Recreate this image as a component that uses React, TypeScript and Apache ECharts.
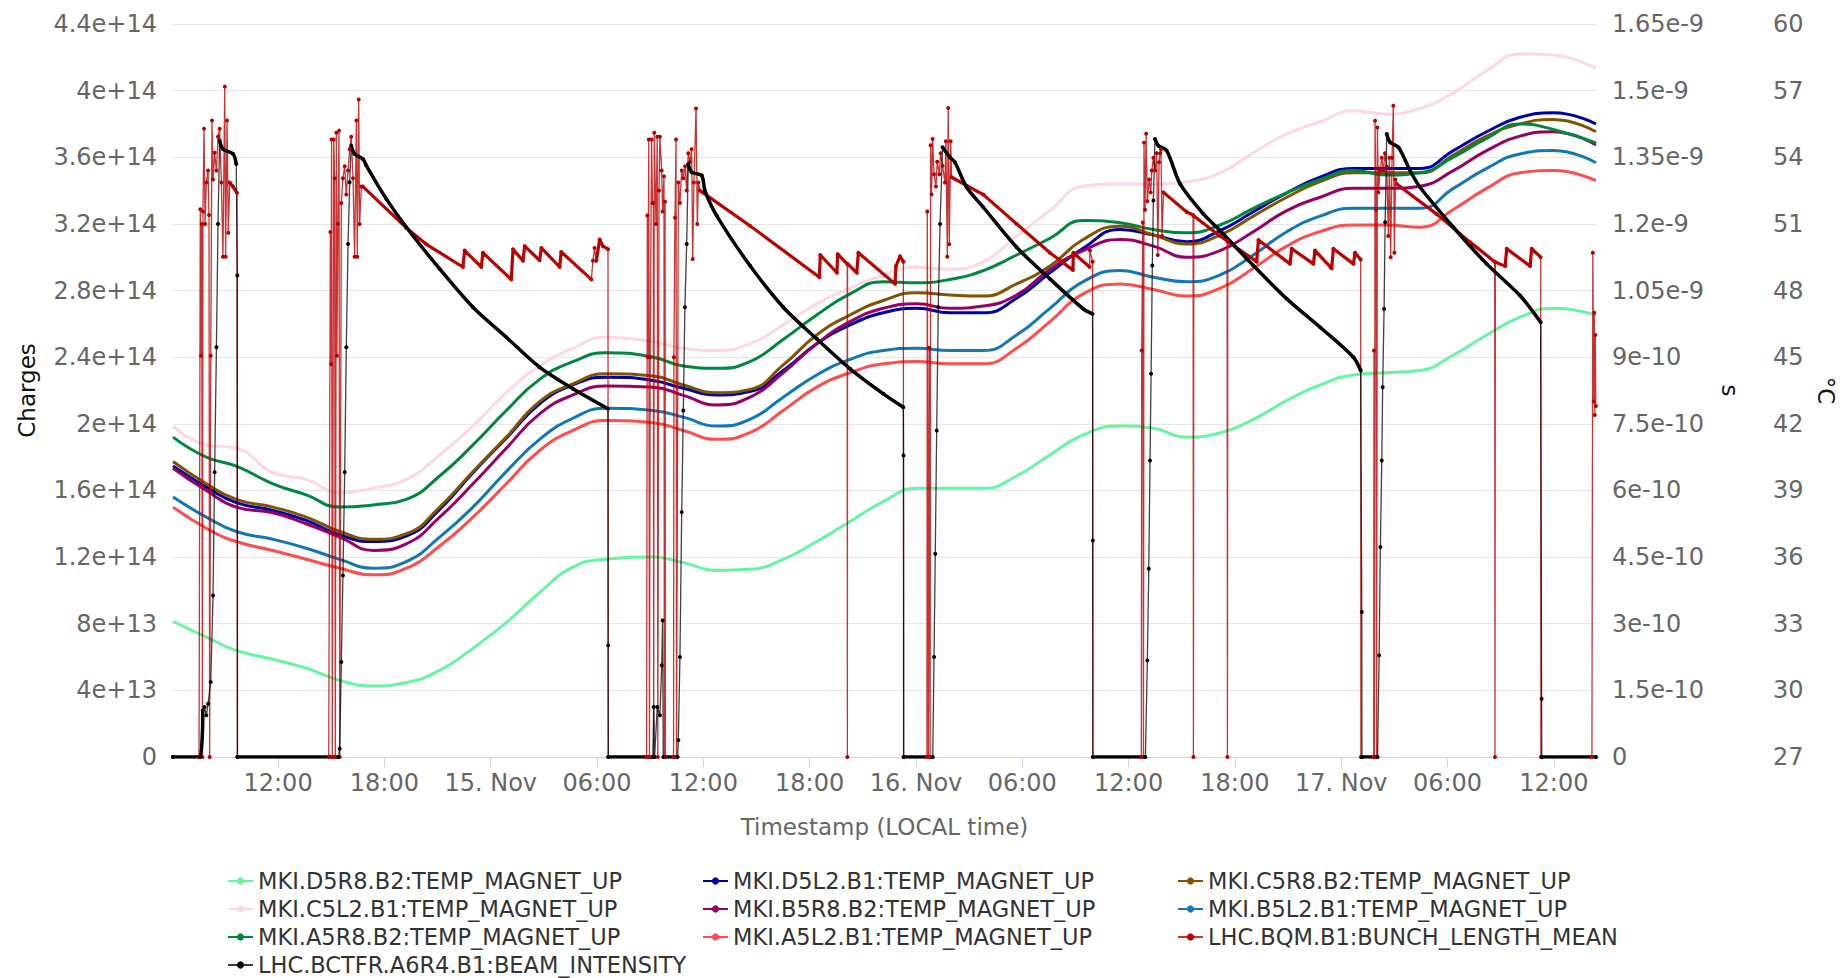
import React, { useEffect, useRef } from "react";
import * as echarts from "echarts";

const FONT = "DejaVu Sans";

// x axis: hours since 14 Nov 00:00 (local time)
const X_MIN = 6.07;
const X_MAX = 86.38;
const X_TICKS = [12, 18, 24, 30, 36, 42, 48, 54, 60, 66, 72, 78, 84];

// temperature sample times (hours)
const TEMP_HOURS = [6.07, 7.95, 9.64, 11.71, 13.59, 15.48, 17.36, 19.24, 21.12, 23.0, 24.88, 26.76, 28.64, 30.52, 33.16,
  34.87, 36.75, 38.63, 40.51, 42.4, 44.28, 46.16, 48.04, 49.92, 51.8, 53.68, 55.56, 57.44,
  59.52, 61.4, 63.28, 65.16, 67.04, 68.93, 70.81, 72.69, 74.57, 76.45, 78.33, 80.21, 82.09, 83.97, 86.38];

// temperatures (°C)
const D5R8_B2 = [33.1, 32.4, 31.8, 31.4, 31.0, 30.45, 30.2, 30.35, 30.9, 31.9, 33.05, 34.4, 35.55, 35.9, 36.0,
  35.75, 35.4, 35.45, 35.9, 36.7, 37.6, 38.5, 39.1, 39.1, 39.1, 39.65, 40.6, 41.5,
  41.9, 41.8, 41.4, 41.6, 42.2, 43.05, 43.75, 44.2, 44.3, 44.4, 45.1, 46.0, 46.8, 47.2, 46.9];
const D5L2_B1 = [40.1, 39.15, 38.45, 38.1, 37.65, 37.0, 36.7, 36.95, 38.15, 39.8, 41.35, 42.9, 43.75, 44.1, 43.95,
  43.6, 43.3, 43.45, 44.4, 45.6, 46.45, 47.0, 47.2, 47.0, 47.0, 47.65, 48.8, 49.9,
  50.75, 50.5, 50.2, 50.7, 51.55, 52.4, 53.1, 53.5, 53.5, 53.5, 54.3, 55.15, 55.8, 56.0, 55.5];
const C5R8_B2 = [40.3, 39.3, 38.6, 38.25, 37.8, 37.15, 36.8, 37.05, 38.25, 39.85, 41.4, 43.0, 43.8, 44.25, 44.15,
  43.75, 43.4, 43.55, 44.65, 46.0, 46.9, 47.55, 47.9, 47.8, 47.75, 48.3, 49.1, 50.3,
  50.9, 50.5, 50.1, 50.5, 51.35, 52.2, 52.9, 53.3, 53.3, 53.3, 54.1, 54.95, 55.5, 55.7, 55.15];
const C5L2_B1 = [41.9, 41.05, 40.9, 39.8, 39.5, 38.9, 39.1, 39.5, 40.6, 41.9, 43.4, 44.6, 45.4, 45.9, 45.7,
  45.4, 45.3, 45.6, 46.45, 47.4, 48.1, 48.7, 49.05, 48.96, 49.3, 50.45, 51.6, 52.7,
  52.8, 52.8, 52.9, 53.3, 54.2, 55.05, 55.6, 56.1, 55.95, 56.2, 56.9, 57.9, 58.65, 58.6, 58.0];
const B5R8_B2 = [40.0, 39.0, 38.25, 38.0, 37.5, 36.9, 36.3, 36.6, 37.8, 39.3, 40.9, 42.45, 43.3, 43.7, 43.65,
  43.28, 42.85, 43.2, 44.3, 45.6, 46.6, 47.2, 47.4, 47.2, 47.3, 47.8, 48.95, 49.8,
  50.3, 50.0, 49.5, 49.8, 50.65, 51.6, 52.2, 52.6, 52.6, 52.7, 53.4, 54.3, 54.95, 55.15, 54.55];
const B5L2_B1 = [38.7, 37.8, 37.15, 36.8, 36.4, 35.9, 35.5, 35.8, 36.9, 38.25, 39.85, 41.3, 42.25, 42.7, 42.6,
  42.3, 41.9, 42.2, 43.2, 44.2, 44.9, 45.3, 45.4, 45.3, 45.3, 46.0, 47.2, 48.4,
  48.9, 48.6, 48.4, 48.7, 49.6, 50.65, 51.35, 51.7, 51.7, 51.7, 52.6, 53.5, 54.15, 54.3, 53.75];
const A5R8_B2 = [41.4, 40.5, 40.1, 39.3, 38.8, 38.25, 38.35, 38.6, 39.65, 41.05, 42.6, 44.0, 44.8, 45.2, 45.0,
  44.6, 44.5, 44.8, 45.8, 46.9, 47.85, 48.4, 48.35, 48.5, 48.9, 49.6, 50.35, 51.15,
  51.05, 50.75, 50.6, 50.95, 51.7, 52.4, 53.0, 53.4, 53.2, 53.3, 54.0, 54.85, 55.5, 55.25, 54.65];
const A5L2_B1 = [38.25, 37.3, 36.7, 36.3, 35.9, 35.5, 35.2, 35.5, 36.5, 37.8, 39.3, 40.8, 41.7, 42.15, 42.05,
  41.7, 41.3, 41.6, 42.6, 43.65, 44.3, 44.7, 44.8, 44.7, 44.7, 45.4, 46.6, 47.85,
  48.3, 48.05, 47.75, 48.1, 49.0, 50.0, 50.65, 50.95, 50.95, 50.85, 51.65, 52.6, 53.3, 53.4, 52.95];

// bunch length mean [hour, seconds]
const BUNCH_LENGTH: [number, number][] = [
  [6.07, 0], [7.54, 0], [7.61, 12.33e-10], [7.65, 9.03e-10], [7.69, 12.0e-10], [7.73, 0], [7.76, 12.28e-10], [7.82, 14.14e-10],
  [7.88, 12.0e-10], [7.95, 12.93e-10], [8.05, 13.2e-10], [8.1, 12.2e-10], [8.14, 0], [8.2, 9.03e-10], [8.27, 14.33e-10],
  [8.33, 13.0e-10], [8.42, 13.6e-10], [8.52, 13.2e-10], [8.61, 13.96e-10], [8.7, 14.14e-10], [8.8, 12.93e-10], [8.89, 11.26e-10],
  [8.99, 15.09e-10], [9.04, 11.26e-10], [9.12, 14.33e-10], [9.19, 11.8e-10], [9.27, 12.93e-10], [9.46, 12.84e-10], [9.68, 12.7e-10], [9.7, 0],
  [14.86, 0], [14.95, 11.82e-10], [14.99, 8.84e-10], [15.02, 13.9e-10], [15.06, 0], [15.14, 13.9e-10], [15.19, 13.03e-10], [15.23, 0],
  [15.29, 14.05e-10], [15.32, 9.03e-10], [15.38, 12.0e-10], [15.44, 14.1e-10], [15.48, 0], [15.57, 12.47e-10], [15.66, 13.03e-10],
  [15.76, 13.3e-10], [15.85, 12.66e-10], [15.95, 13.2e-10], [16.04, 13.68e-10], [16.13, 13.96e-10], [16.23, 13.03e-10], [16.32, 11.26e-10],
  [16.42, 14.33e-10], [16.47, 11.26e-10], [16.55, 14.8e-10], [16.6, 12.0e-10], [16.7, 12.84e-10], [16.79, 12.84e-10], [19.24, 11.91e-10],
  [20.37, 11.54e-10], [22.43, 11.03e-10], [22.53, 11.4e-10], [23.47, 11.03e-10], [23.56, 11.35e-10], [25.16, 10.75e-10], [25.26, 11.43e-10],
  [25.82, 11.17e-10], [25.92, 11.5e-10], [26.76, 11.18e-10], [26.86, 11.46e-10], [27.89, 11.03e-10], [27.98, 11.37e-10], [29.68, 10.75e-10],
  [29.77, 11.17e-10], [29.86, 11.46e-10], [29.96, 11.17e-10], [30.15, 11.65e-10], [30.33, 11.5e-10], [30.62, 11.43e-10], [30.63, 0],
  [32.8, 0], [32.84, 12.19e-10], [32.87, 9.0e-10], [32.92, 13.9e-10], [32.96, 0], [33.0, 9.0e-10], [33.08, 13.9e-10], [33.13, 12.47e-10],
  [33.18, 12.47e-10], [33.2, 0], [33.23, 14.05e-10], [33.33, 12.0e-10], [33.4, 13.96e-10], [33.43, 0], [33.5, 12.75e-10], [33.55, 13.96e-10],
  [33.65, 13.2e-10], [33.7, 12.28e-10], [33.78, 13.07e-10], [33.8, 0], [33.84, 12.5e-10], [33.86, 0], [34.32, 0], [34.34, 9.0e-10],
  [34.4, 12.14e-10], [34.46, 13.9e-10], [34.49, 0], [34.59, 12.93e-10], [34.68, 12.47e-10], [34.78, 13.2e-10], [34.87, 13.03e-10],
  [34.97, 13.3e-10], [35.06, 12.75e-10], [35.15, 13.59e-10], [35.25, 13.4e-10], [35.34, 13.68e-10], [35.4, 11.21e-10], [35.47, 12.93e-10],
  [35.59, 14.6e-10], [35.66, 12.0e-10], [35.72, 12.93e-10], [35.81, 12.75e-10], [38.63, 11.96e-10], [42.55, 10.8e-10], [42.6, 11.3e-10],
  [43.54, 10.9e-10], [43.58, 11.32e-10], [44.12, 11.1e-10], [44.13, 0], [44.14, 11.1e-10], [44.66, 10.9e-10], [44.75, 11.35e-10],
  [46.82, 10.65e-10], [46.87, 11.05e-10], [47.1, 11.27e-10], [47.29, 11.15e-10], [47.3, 0],
  [48.62, 0], [48.64, 12.28e-10], [48.7, 0], [48.75, 9.21e-10], [48.8, 0], [48.83, 13.77e-10], [48.88, 12.66e-10], [48.94, 13.91e-10],
  [49.02, 13.12e-10], [49.13, 12.84e-10], [49.2, 13.4e-10], [49.32, 13.12e-10], [49.39, 13.59e-10], [49.5, 13.31e-10], [49.64, 12.93e-10],
  [49.69, 13.86e-10], [49.77, 11.26e-10], [49.82, 14.61e-10], [49.88, 11.54e-10], [49.96, 13.86e-10], [50.01, 13.05e-10], [51.8, 12.66e-10],
  [53.68, 12.0e-10], [55.56, 11.35e-10], [56.86, 10.96e-10], [56.88, 11.35e-10], [57.8, 11.03e-10], [57.82, 11.4e-10], [57.97, 11.15e-10], [57.98, 0],
  [60.72, 0], [60.74, 9.15e-10], [60.8, 12.03e-10], [60.84, 0], [60.87, 13.83e-10], [60.93, 12.32e-10], [60.99, 14.03e-10], [61.06, 12.51e-10],
  [61.16, 13.0e-10], [61.25, 12.71e-10], [61.31, 13.2e-10], [61.4, 13.49e-10], [61.5, 13.2e-10], [61.59, 13.59e-10], [61.65, 11.3e-10],
  [61.72, 13.39e-10], [61.78, 13.59e-10], [61.83, 13.68e-10], [61.89, 11.73e-10], [61.97, 12.71e-10], [63.28, 12.27e-10], [63.64, 12.2e-10],
  [63.66, 0], [63.68, 12.18e-10], [65.16, 11.73e-10], [65.56, 11.62e-10], [65.58, 0], [65.6, 11.6e-10], [67.23, 11.15e-10], [67.33, 11.64e-10],
  [69.11, 11.1e-10], [69.21, 11.44e-10], [70.43, 11.1e-10], [70.52, 11.4e-10], [71.46, 11.0e-10], [71.56, 11.44e-10], [72.69, 11.1e-10],
  [72.78, 11.35e-10], [73.1, 11.2e-10], [73.11, 0],
  [73.83, 0], [73.85, 9.15e-10], [73.88, 0], [73.91, 14.32e-10], [73.97, 12.32e-10], [74.0, 0], [74.04, 14.17e-10], [74.1, 12.71e-10],
  [74.19, 13.2e-10], [74.29, 13.49e-10], [74.38, 13.2e-10], [74.47, 13.59e-10], [74.57, 13.29e-10], [74.66, 11.73e-10], [74.72, 13.49e-10],
  [74.79, 11.25e-10], [74.87, 13.49e-10], [74.94, 14.66e-10], [75.0, 11.35e-10], [75.06, 13.0e-10], [75.13, 12.9e-10], [77.39, 12.22e-10],
  [79.27, 11.59e-10], [80.66, 11.15e-10], [80.68, 0], [80.7, 11.14e-10], [81.25, 11.05e-10], [81.34, 11.44e-10], [82.66, 11.05e-10],
  [82.75, 11.44e-10], [83.26, 11.25e-10], [83.27, 0], [86.15, 0], [86.2, 11.35e-10], [86.25, 8.0e-10], [86.28, 10.0e-10], [86.31, 7.7e-10],
  [86.34, 9.5e-10], [86.37, 7.9e-10],
];

// beam intensity [hour, charges]
const BEAM_INTENSITY: [number, number][] = [
  [6.07, 0], [7.6, 0], [7.75, 0.28e14], [7.85, 0.3e14], [7.95, 0.25e14], [8.05, 0.32e14], [8.2, 0.45e14], [8.33, 0.97e14], [8.42, 1.71e14],
  [8.52, 2.46e14], [8.61, 3.2e14], [8.7, 3.7e14], [8.89, 3.65e14], [9.46, 3.62e14], [9.64, 3.56e14], [9.7, 2.89e14], [9.71, 0],
  [15.4, 0], [15.48, 0.05e14], [15.57, 0.57e14], [15.66, 1.09e14], [15.76, 1.71e14], [15.85, 2.46e14], [15.95, 3.08e14], [16.04, 3.45e14],
  [16.13, 3.67e14], [16.32, 3.62e14], [16.79, 3.59e14], [16.98, 3.55e14], [18.11, 3.35e14], [19.24, 3.18e14], [21.12, 2.93e14],
  [23.0, 2.7e14], [24.88, 2.52e14], [26.76, 2.34e14], [28.64, 2.21e14], [30.62, 2.09e14], [30.63, 0.67e14], [30.64, 0],
  [33.15, 0], [33.2, 0.3e14], [33.25, 0], [33.4, 0.3e14], [33.55, 0.25e14], [33.65, 0.55e14], [33.7, 0.82e14], [33.74, 0],
  [34.55, 0], [34.59, 0.1e14], [34.68, 0.6e14], [34.78, 1.47e14], [34.87, 2.08e14], [34.96, 2.7e14], [35.06, 3.08e14], [35.15, 3.56e14],
  [35.34, 3.51e14], [35.91, 3.49e14], [36.09, 3.4e14], [36.75, 3.25e14], [38.63, 2.95e14], [40.51, 2.7e14], [42.4, 2.51e14],
  [44.28, 2.33e14], [46.16, 2.18e14], [47.29, 2.1e14], [47.3, 1.81e14], [47.31, 0],
  [48.95, 0], [49.02, 0.6e14], [49.09, 1.22e14], [49.17, 1.96e14], [49.26, 2.7e14], [49.36, 3.2e14], [49.5, 3.66e14], [49.92, 3.6e14],
  [50.2, 3.57e14], [50.86, 3.42e14], [51.8, 3.3e14], [53.68, 3.06e14], [55.56, 2.87e14], [57.44, 2.69e14], [57.97, 2.66e14], [57.98, 1.3e14], [57.99, 0],
  [60.95, 0], [61.06, 0.58e14], [61.14, 1.13e14], [61.21, 1.78e14], [61.27, 2.3e14], [61.34, 2.95e14], [61.4, 3.34e14], [61.49, 3.71e14],
  [61.68, 3.67e14], [62.15, 3.64e14], [62.91, 3.44e14], [64.22, 3.26e14], [65.16, 3.16e14], [67.04, 2.95e14], [68.93, 2.75e14],
  [70.81, 2.58e14], [72.69, 2.4e14], [73.1, 2.32e14], [73.16, 0.87e14], [73.17, 0],
  [74.05, 0], [74.14, 0.61e14], [74.21, 1.26e14], [74.29, 1.78e14], [74.34, 2.22e14], [74.42, 2.69e14], [74.48, 3.21e14], [74.57, 3.74e14],
  [74.76, 3.69e14], [75.23, 3.66e14], [75.89, 3.52e14], [76.45, 3.42e14], [78.33, 3.18e14], [80.21, 2.96e14], [82.09, 2.77e14],
  [83.26, 2.61e14], [83.31, 0.35e14], [83.32, 0], [86.38, 0],
];

const TEMP_SERIES: [string, string, number[]][] = [
  ["MKI.D5R8.B2:TEMP_MAGNET_UP", "#66f5a0", D5R8_B2],
  ["MKI.D5L2.B1:TEMP_MAGNET_UP", "#0000aa", D5L2_B1],
  ["MKI.C5R8.B2:TEMP_MAGNET_UP", "#7f5500", C5R8_B2],
  ["MKI.C5L2.B1:TEMP_MAGNET_UP", "#ffd6e2", C5L2_B1],
  ["MKI.B5R8.B2:TEMP_MAGNET_UP", "#990066", B5R8_B2],
  ["MKI.B5L2.B1:TEMP_MAGNET_UP", "#1177b5", B5L2_B1],
  ["MKI.A5R8.B2:TEMP_MAGNET_UP", "#00873e", A5R8_B2],
  ["MKI.A5L2.B1:TEMP_MAGNET_UP", "#ff4d4d", A5L2_B1],
];

const BQM_NAME = "LHC.BQM.B1:BUNCH_LENGTH_MEAN";
const BCT_NAME = "LHC.BCTFR.A6R4.B1:BEAM_INTENSITY";

const expFmt = (v: number) => (v === 0 ? "0" : Number(v.toPrecision(6)).toExponential());
const timeFmt = (h: number) => {
  const r = Math.round(h);
  const hh = r % 24;
  if (hh === 0) return `${14 + r / 24}. Nov`;
  return `${String(hh).padStart(2, "0")}:00`;
};

// keep only the slowly varying stretches of a series (dense stretches of the
// original logging look thicker); fast steps are left to the thin trace.
function slowStretches(pts: [number, number][], minDt: number, nonZero: boolean) {
  const n = pts.length;
  const long = pts.slice(0, -1).map((p, i) => pts[i + 1][0] - p[0] >= minDt);
  const ok = (i: number) => !nonZero || (pts[i][1] !== 0 && pts[i + 1][1] !== 0);
  const thick = long.map((l, i) =>
    ok(i) && (l || (nonZero && i > 0 && i < n - 2 && long[i - 1] && long[i + 1]))
  );
  const out: any[] = [];
  let open = false;
  for (let i = 0; i < n - 1; i++) {
    if (thick[i]) {
      if (!open) out.push(pts[i]);
      out.push(pts[i + 1]);
      open = true;
    } else if (open) {
      out.push([(pts[i][0] + pts[i + 1][0]) / 2, "-"]);
      open = false;
    }
  }
  return out;
}

export default function App() {
  const ref = useRef<HTMLDivElement>(null);
  useEffect(() => {
    if (!ref.current) return;
    const chart = echarts.init(ref.current, undefined, { renderer: "svg" });
    const labelStyle = { fontFamily: FONT, fontSize: 24, color: "#666666" };
    const series: any[] = TEMP_SERIES.map(([name, color, vals]) => ({
      name,
      type: "line",
      yAxisIndex: 2,
      data: TEMP_HOURS.map((h, i) => [h, vals[i]]),
      smooth: 0.5,
      showSymbol: false,
      symbol: "circle",
      symbolSize: 5,
      color,
      lineStyle: { width: 3, color },
      emphasis: { disabled: true },
    }));
    series.push(
      {
        name: BQM_NAME,
        type: "line",
        yAxisIndex: 1,
        data: BUNCH_LENGTH,
        showSymbol: true,
        symbol: "circle",
        symbolSize: 4,
        color: "#bb0000",
        lineStyle: { width: 1.3, color: "#bb0000", opacity: 0.8 },
        emphasis: { disabled: true },
      },
      {
        name: BQM_NAME,
        type: "line",
        yAxisIndex: 1,
        data: slowStretches(BUNCH_LENGTH, 0.15, true),
        showSymbol: false,
        symbol: "circle",
        color: "#bb0000",
        lineStyle: { width: 3.2, color: "#bb0000" },
        emphasis: { disabled: true },
      },
      {
        name: BCT_NAME,
        type: "line",
        yAxisIndex: 0,
        data: BEAM_INTENSITY,
        showSymbol: true,
        symbol: "circle",
        symbolSize: 4,
        color: "#000000",
        lineStyle: { width: 1.3, color: "#000000", opacity: 0.75 },
        emphasis: { disabled: true },
      },
      {
        name: BCT_NAME,
        type: "line",
        yAxisIndex: 0,
        data: slowStretches(BEAM_INTENSITY, 0.15, false),
        smooth: 0.3,
        showSymbol: false,
        symbol: "circle",
        color: "#000000",
        lineStyle: { width: 3.5, color: "#000000" },
        emphasis: { disabled: true },
      }
    );

    chart.setOption({
      animation: false,
      textStyle: { fontFamily: FONT },
      grid: { left: 173, right: 251, top: 24, bottom: 221, containLabel: false },
      legend: {
        left: 227,
        top: 867,
        width: 1440,
        padding: 0,
        itemGap: 0,
        itemWidth: 25,
        itemHeight: 9,
        textStyle: { fontFamily: FONT, fontSize: 22.5, color: "#333333", width: 444, lineHeight: 28 },
      },
      xAxis: {
        type: "value",
        min: X_MIN,
        max: X_MAX,
        name: "Timestamp (LOCAL time)",
        nameLocation: "middle",
        nameGap: 58,
        nameTextStyle: { fontFamily: FONT, fontSize: 23, color: "#666666" },
        axisLine: { show: true, lineStyle: { color: "#ccd6eb", width: 1 } },
        axisTick: { show: true, customValues: X_TICKS, length: 10, lineStyle: { color: "#ccd6eb" } },
        axisLabel: { ...labelStyle, customValues: X_TICKS, formatter: timeFmt, margin: 14 },
        splitLine: { show: false },
      },
      yAxis: [
        {
          type: "value",
          min: 0,
          max: 4.4e14,
          interval: 4e13,
          name: "Charges",
          nameLocation: "middle",
          nameGap: 135,
          nameRotate: 90,
          nameTextStyle: { fontFamily: FONT, fontSize: 23, color: "#111111" },
          axisLabel: { ...labelStyle, margin: 16, formatter: expFmt },
          axisLine: { show: false },
          axisTick: { show: false },
          splitLine: { show: true, lineStyle: { color: "#e6e6e6", width: 1 } },
        },
        {
          type: "value",
          position: "right",
          min: 0,
          max: 1.65e-9,
          interval: 1.5e-10,
          name: "s",
          nameLocation: "middle",
          nameGap: 122,
          nameRotate: -90,
          nameTextStyle: { fontFamily: FONT, fontSize: 23, color: "#111111" },
          axisLabel: { ...labelStyle, margin: 16, formatter: expFmt },
          axisLine: { show: false },
          axisTick: { show: false },
          splitLine: { show: false },
        },
        {
          type: "value",
          position: "right",
          offset: 161,
          min: 27,
          max: 60,
          interval: 3,
          name: "°C",
          nameLocation: "middle",
          nameGap: 57,
          nameRotate: -90,
          nameTextStyle: { fontFamily: FONT, fontSize: 23, color: "#111111" },
          axisLabel: { ...labelStyle, margin: 16 },
          axisLine: { show: false },
          axisTick: { show: false },
          splitLine: { show: false },
        },
      ],
      series,
    });
    return () => chart.dispose();
  }, []);
  return <div ref={ref} style={{ position: "absolute", left: 0, top: 0, width: 1847, height: 978 }} />;
}
